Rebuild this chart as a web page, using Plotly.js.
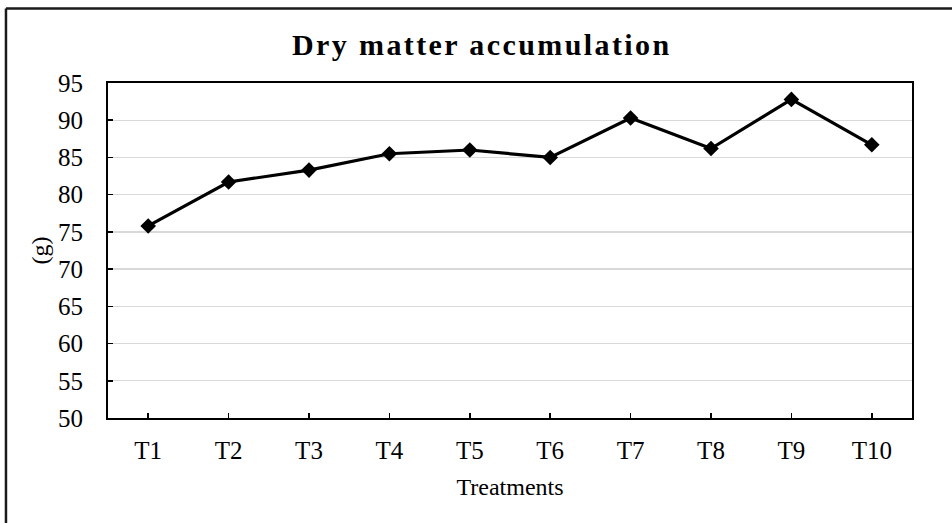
<!DOCTYPE html>
<html>
<head>
<meta charset="utf-8">
<script src="https://cdn.plot.ly/plotly-3.0.1.min.js"></script>
<style>
  html, body { margin: 0; padding: 0; background: #fff; }
  #chart { width: 952px; height: 523px; }
  .gtitle { letter-spacing: 2.4px; }
</style>
</head>
<body>
<div id="chart"></div>
<script>
const categories = ["T1", "T2", "T3", "T4", "T5", "T6", "T7", "T8", "T9", "T10"];
const dryMatter = [75.8, 81.7, 83.3, 85.5, 86.0, 85.0, 90.3, 86.2, 92.8, 86.7];
const yTicks = [50, 55, 60, 65, 70, 75, 80, 85, 90, 95];

const FONT = "'Liberation Serif', 'Times New Roman', serif";

const trace = {
  x: categories,
  y: dryMatter,
  type: "scatter",
  mode: "lines+markers",
  line: { color: "#000000", width: 3.2 },
  marker: { symbol: "diamond", size: 12, color: "#000000" },
  hoverinfo: "x+y"
};

const layout = {
  width: 952,
  height: 523,
  paper_bgcolor: "#ffffff",
  plot_bgcolor: "#ffffff",
  margin: { l: 108, r: 40, t: 83, b: 105 },
  showlegend: false,
  font: { family: FONT, color: "#000000", size: 24 },
  title: {
    text: "<b>Dry matter accumulation</b>",
    font: { family: FONT, size: 30, color: "#000000" },
    xref: "container", yref: "container",
    x: 0.506, xanchor: "center",
    y: 1 - 44 / 523, yanchor: "middle"
  },
  xaxis: {
    type: "category",
    range: [-0.5, 9.5],
    showline: true, linecolor: "#000000", linewidth: 2, mirror: true,
    ticks: "inside", ticklen: 5, tickwidth: 1.5, tickcolor: "#000000",
    showgrid: false, zeroline: false,
    tickfont: { family: FONT, size: 25, color: "#000000" },
    ticklabelstandoff: 9,
    title: { text: "Treatments", font: { family: FONT, size: 24, color: "#000000" }, standoff: 15 }
  },
  yaxis: {
    range: [50, 95],
    tickvals: yTicks,
    ticktext: yTicks.map(String),
    showline: true, linecolor: "#000000", linewidth: 2, mirror: true,
    ticks: "inside", ticklen: 5, tickwidth: 1.5, tickcolor: "#000000",
    showgrid: true, gridcolor: "#d9d9d9", gridwidth: 1.3,
    zeroline: false,
    tickfont: { family: FONT, size: 25, color: "#000000" },
    ticklabelstandoff: 18,
    title: { text: "(g)", font: { family: FONT, size: 24, color: "#000000" }, standoff: 3 }
  },
  shapes: [
    { type: "line", xref: "paper", yref: "paper",
      x0: -0.1269, x1: 1.1, y0: 1.2224, y1: 1.2224,
      line: { color: "#1a1a1a", width: 2.5 } },
    { type: "line", xref: "paper", yref: "paper",
      x0: -0.1269, x1: -0.1269, y0: 1.2224, y1: -0.4,
      line: { color: "#1a1a1a", width: 2.5 } }
  ]
};

Plotly.newPlot("chart", [trace], layout, { displayModeBar: false, staticPlot: true });
</script>
</body>
</html>
